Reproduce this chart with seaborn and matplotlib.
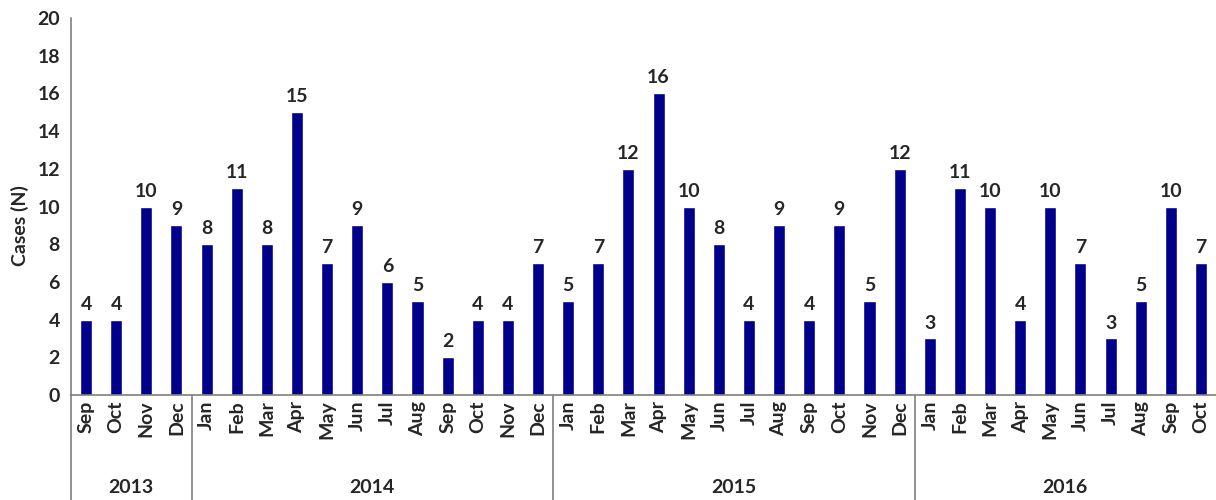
import matplotlib
matplotlib.use('Agg')
import matplotlib.pyplot as plt
import matplotlib.transforms as mtransforms
import seaborn as sns
import pandas as pd

# ── data ─────────────────────────────────────────────
years = ['2013', '2014', '2015', '2016']
months_2013 = ['Sep', 'Oct', 'Nov', 'Dec']
months_full = ['Jan', 'Feb', 'Mar', 'Apr', 'May', 'Jun',
               'Jul', 'Aug', 'Sep', 'Oct', 'Nov', 'Dec']
months_2016 = months_full[:10]

cases_2013 = [4, 4, 10, 9]
cases_2014 = [8, 11, 8, 15, 7, 9, 6, 5, 2, 4, 4, 7]
cases_2015 = [5, 7, 12, 16, 10, 8, 4, 9, 4, 9, 5, 12]
cases_2016 = [3, 11, 10, 4, 10, 7, 3, 5, 10, 7]

month_groups = [months_2013, months_full, months_full, months_2016]
case_groups = [cases_2013, cases_2014, cases_2015, cases_2016]

rows = []
for yr, mons, vals in zip(years, month_groups, case_groups):
    for m, v in zip(mons, vals):
        rows.append({'year': yr, 'month': m, 'key': f'{yr}-{m}', 'cases': v})
df = pd.DataFrame(rows)

# ── style ────────────────────────────────────────────
sns.set_style('white')
plt.rcParams['font.family'] = ['Lato', 'DejaVu Sans']
plt.rcParams['font.weight'] = 'bold'
FS = 14

fig = plt.figure(figsize=(12.16, 5), dpi=100)
ax = fig.add_axes([0.0584, 0.21, 0.9416, 0.754])

sns.barplot(data=df, x='key', y='cases', color='#00008B', width=0.4,
            saturation=1, ax=ax)
ax.bar_label(ax.containers[0], padding=5, fontsize=FS, fontweight='bold')

ax.set_xlim(-0.5, len(df) - 0.5)
ax.set_ylim(0, 20)
ax.set_yticks(range(0, 21, 2))
ax.set_xticks(range(len(df)))
ax.set_xticklabels(df['month'], rotation=90, fontsize=FS, fontweight='bold')
ax.tick_params(axis='y', labelsize=FS, length=0, pad=8)
ax.tick_params(axis='x', length=0, pad=4)
ax.set_xlabel('')
ax.set_ylabel('Cases (N)', fontsize=FS, fontweight='bold')
ax.yaxis.set_label_coords(-0.037, 0.45)

for side in ['top', 'right']:
    ax.spines[side].set_visible(False)
for side in ['left', 'bottom']:
    ax.spines[side].set_color('#7f7f7f')
    ax.spines[side].set_linewidth(1.2)

# year groups below the axis
trans = mtransforms.blended_transform_factory(ax.transData, ax.transAxes)
start = 0
for yr, vals in zip(years, case_groups):
    end = start + len(vals)
    ax.plot([start - 0.5, start - 0.5], [0, -0.28], color='#7f7f7f',
            lw=1.2, transform=trans, clip_on=False)
    ax.text((start + end - 1) / 2, -0.245, yr, transform=trans,
            ha='center', va='center', fontsize=FS, fontweight='bold')
    start = end

fig.savefig('out.png', dpi=100)
